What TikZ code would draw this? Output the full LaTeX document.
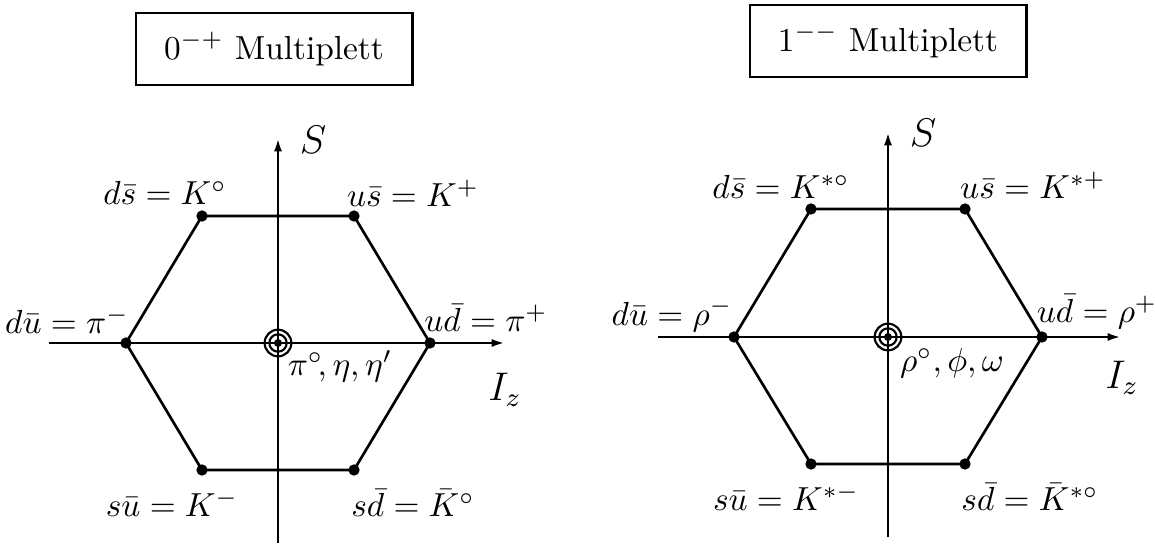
\documentclass[tikz,border=0pt]{standalone}
\usetikzlibrary{arrows.meta}
\begin{document}
\begin{tikzpicture}[x=0.3pt,y=-0.3pt,
  line width=0.8pt,
  dot/.style={circle,fill=black,inner sep=0pt,minimum size=3.4pt},
  ring/.style={circle,draw,line width=0.65pt,inner sep=0pt},
  titlebox/.style={draw,line width=0.7pt,minimum width=83pt,minimum height=21.6pt,inner sep=0pt},
  axis/.style={-{Latex[length=4pt,width=2.4pt]}},
  lab/.style={inner sep=0pt},
  axlab/.style={inner sep=0pt,font=\large}]
\useasboundingbox (0,0) rectangle (1155,545);

% ---------- left: 0^{-+} ----------
\node[titlebox] (boxL) at (274,49) {$0^{-+}$ Multiplett};
\coordinate (xL0) at (49,343);
\coordinate (xL1) at (505,343);
\coordinate (yL0) at (278,543);
\coordinate (yL1) at (278,138);
\draw[axis] (xL0) -- (xL1);
\draw[axis] (yL0) -- (yL1);
\node[dot] (tlL) at (202,216) {};
\node[dot] (trL) at (354,216) {};
\node[dot] (lL) at (126,343) {};
\node[dot] (rL) at (430,343) {};
\node[dot] (blL) at (202,470) {};
\node[dot] (brL) at (354,470) {};
\draw (tlL.center) -- (trL.center) -- (rL.center) -- (brL.center) -- (blL.center) -- (lL.center) -- cycle;
\node[ring,minimum size=8pt] (cL) at (278,343) {};
\node[ring,minimum size=5.2pt] (cL2) at (cL) {};
\node[dot,minimum size=2.4pt] (cL3) at (cL) {};
\node[axlab] (SL) at (313,140) {$S$};
\node[axlab] (IL) at (505,390) {$I_z$};
\node[lab] (l1) at (165,193) {$d\bar s = K^\circ$};
\node[lab] (l2) at (413,193) {$u\bar s = K^+$};
\node[lab] (l3) at (67,320) {$d\bar u = \pi^-$};
\node[lab] (l4) at (486,318) {$u\bar d = \pi^+$};
\node[lab] (l5) at (340,366) {$\pi^\circ\!,\eta,\eta'$};
\node[lab] (l6) at (172,503) {$s\bar u = K^-$};
\node[lab] (l7) at (413,503) {$s\bar d = \bar K^\circ$};

% ---------- right: 1^{--} ----------
\node[titlebox] (boxR) at (888,41) {$1^{--}$ Multiplett};
\coordinate (xR0) at (658,337);
\coordinate (xR1) at (1121,337);
\coordinate (yR0) at (888,537);
\coordinate (yR1) at (888,132);
\draw[axis] (xR0) -- (xR1);
\draw[axis] (yR0) -- (yR1);
\node[dot] (tlR) at (811,209) {};
\node[dot] (trR) at (965,209) {};
\node[dot] (lR) at (734,337) {};
\node[dot] (rR) at (1042,337) {};
\node[dot] (blR) at (811,464) {};
\node[dot] (brR) at (965,464) {};
\draw (tlR.center) -- (trR.center) -- (rR.center) -- (brR.center) -- (blR.center) -- (lR.center) -- cycle;
\node[ring,minimum size=8pt] (cR) at (888,337) {};
\node[ring,minimum size=5.2pt] (cR2) at (cR) {};
\node[dot,minimum size=2.4pt] (cR3) at (cR) {};
\node[axlab] (SR) at (923,133) {$S$};
\node[axlab] (IR) at (1122,378) {$I_z$};
\node[lab] (r1) at (781,187) {$d\bar s = K^{*\circ}$};
\node[lab] (r2) at (1033,185) {$u\bar s = K^{*+}$};
\node[lab] (r3) at (672,315) {$d\bar u = \rho^-$};
\node[lab] (r4) at (1097,312) {$u\bar d = \rho^+$};
\node[lab] (r5) at (952,363) {$\rho^\circ, \phi, \omega$};
\node[lab] (r6) at (786,497) {$s\bar u = K^{*-}$};
\node[lab] (r7) at (1030,497) {$s\bar d = \bar K^{*\circ}$};
\end{tikzpicture}
\end{document}
